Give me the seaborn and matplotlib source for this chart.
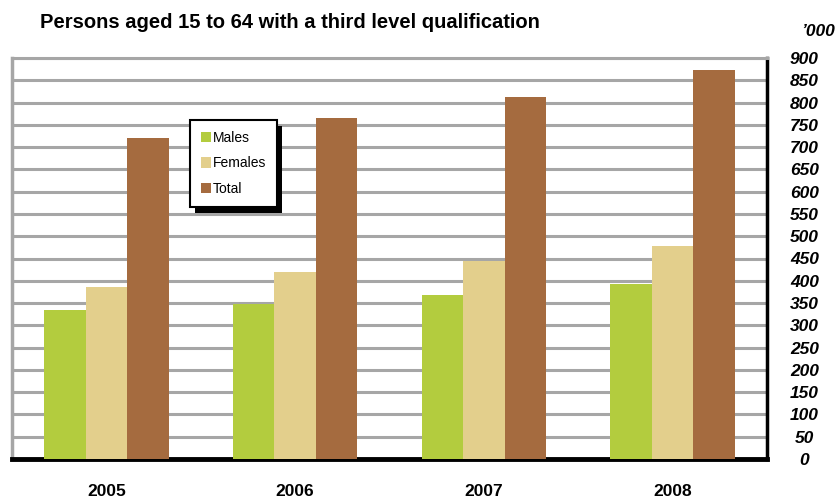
import numpy as np
import pandas as pd
import matplotlib
matplotlib.use('Agg')
import matplotlib.pyplot as plt
from matplotlib.patches import Rectangle
import seaborn as sns

years = ['2005', '2006', '2007', '2008']
series = ['Males', 'Females', 'Total']
males = [334, 348, 368, 393]
females = [386, 420, 444, 478]
total = [720, 765, 812, 873]
colors = ['#B3CC3E', '#E3CF8C', '#A56B3F']

df = pd.DataFrame({
    'year': years * 3,
    'series': [s for s in series for _ in years],
    'value': males + females + total,
})

sns.set_style('white')
plt.rcParams['font.family'] = ['Liberation Sans', 'DejaVu Sans']
plt.rcParams['text.color'] = 'black'
plt.rcParams['xtick.color'] = 'black'
plt.rcParams['ytick.color'] = 'black'

fig = plt.figure(figsize=(8.38, 5), dpi=100)
ax = fig.add_axes([0.0143, 0.082, 0.9010, 0.802])

sns.barplot(data=df, x='year', y='value', hue='series', palette=colors,
            width=0.66, saturation=1, ax=ax, zorder=3, edgecolor='none')

ax.set_ylim(0, 900)
ax.set_xlim(-0.5, 3.5)
ax.set_yticks(np.arange(0, 901, 50))
ax.yaxis.tick_right()
ax.tick_params(axis='y', length=0, pad=27)
ax.tick_params(axis='x', length=0, pad=18)
for lab in ax.get_yticklabels():
    lab.set_fontstyle('italic')
    lab.set_fontweight('bold')
    lab.set_fontsize(12.5)
    lab.set_horizontalalignment('center')
for lab in ax.get_xticklabels():
    lab.set_fontweight('bold')
    lab.set_fontsize(12.5)
ax.set_xlabel('')
ax.set_ylabel('')

ax.yaxis.grid(True, color='#A6A6A6', linewidth=2.2, zorder=0)
ax.set_axisbelow(True)
ax.spines['left'].set_color('#A6A6A6')
ax.spines['left'].set_linewidth(2.5)
ax.spines['top'].set_color('#A6A6A6')
ax.spines['top'].set_linewidth(2.2)
ax.spines['right'].set_color('black')
ax.spines['right'].set_linewidth(2.5)
ax.spines['bottom'].set_color('black')
ax.spines['bottom'].set_linewidth(3.5)

fig.text(0.048, 0.955, 'Persons aged 15 to 64 with a third level qualification',
         fontsize=14.5, fontweight='bold', va='center')
fig.text(0.997, 0.938, "\u2019000", fontsize=12.5, fontweight='bold',
         fontstyle='italic', va='center', ha='right')

leg = ax.legend(loc='upper left', bbox_to_anchor=(0.236, 0.845), fontsize=10,
                frameon=True, fancybox=False, edgecolor='black', framealpha=1,
                handlelength=0.75, handleheight=0.75, handletextpad=0.15,
                labelspacing=0.85, borderpad=0.75, borderaxespad=0)
leg.get_frame().set_linewidth(1.5)
leg.get_frame().set_facecolor('white')
leg.set_zorder(10)

fig.canvas.draw()
bb = leg.get_window_extent().transformed(fig.transFigure.inverted())
dx, dy = 5 / 838, 6 / 500
shadow = Rectangle((bb.x0 + dx, bb.y0 - dy), bb.width, bb.height,
                   transform=fig.transFigure, facecolor='black',
                   edgecolor='none', zorder=9)
ax.add_artist(shadow)
shadow.set_clip_on(False)

fig.savefig('out.png', dpi=100)
